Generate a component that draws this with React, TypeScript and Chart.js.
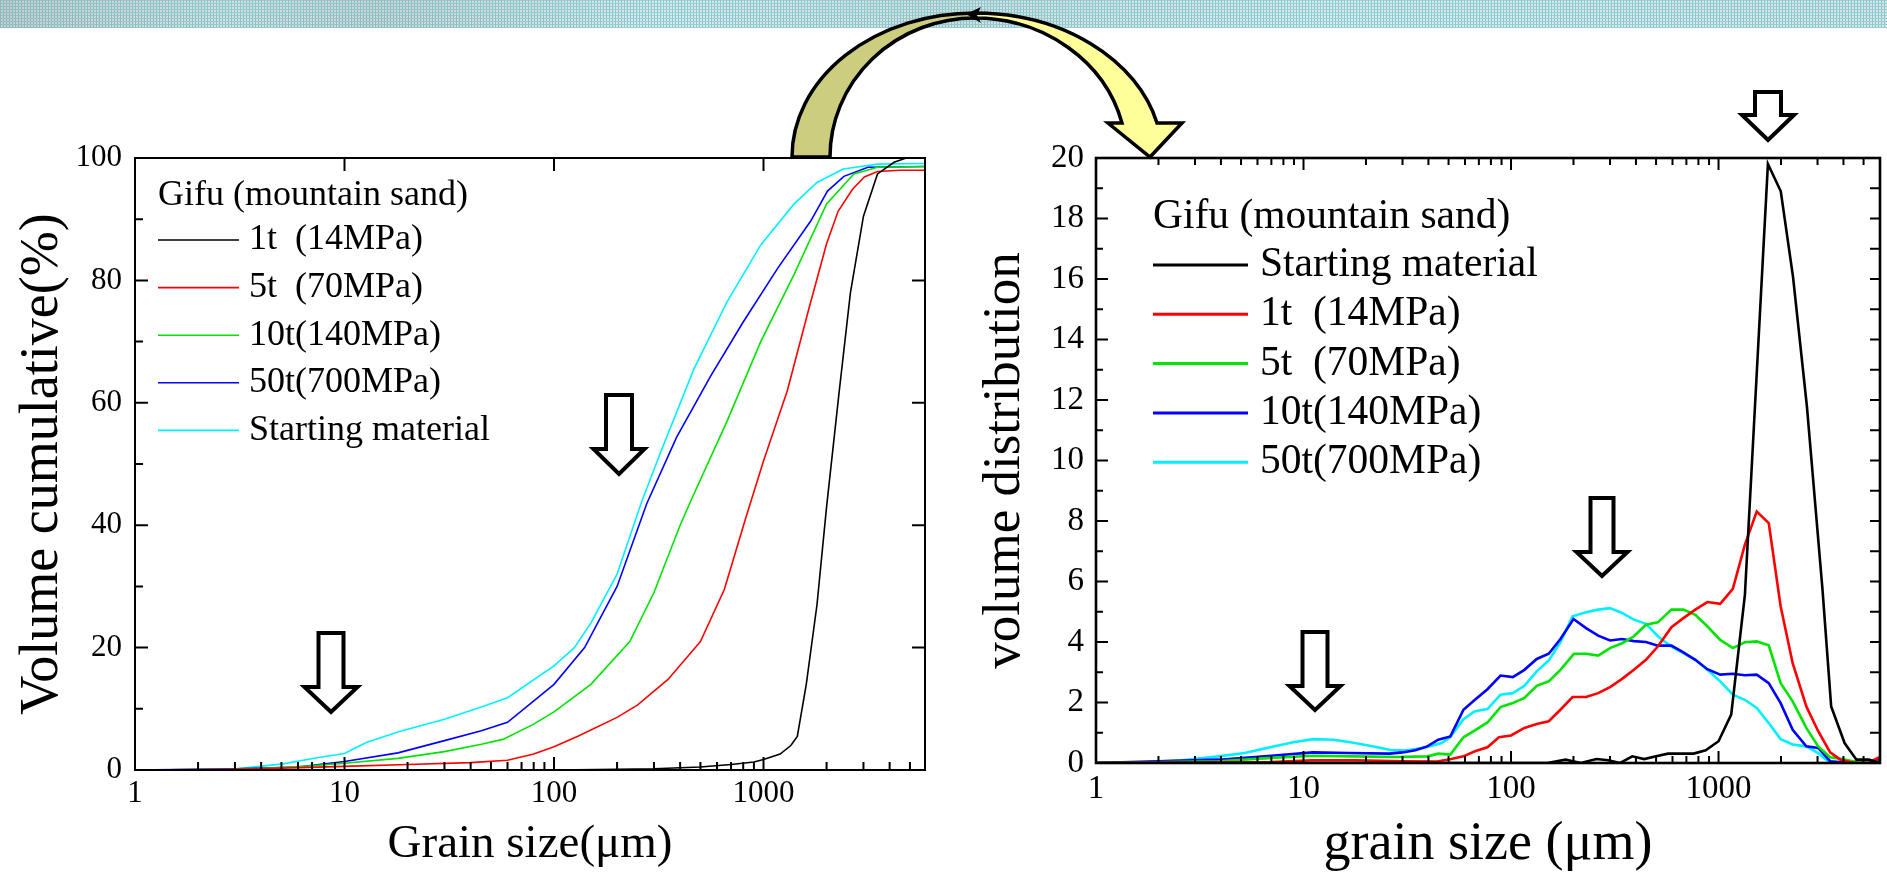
import { useEffect, useRef } from 'react';
import { Chart, registerables } from 'chart.js';
Chart.register(...registerables);

const FONT = '"Liberation Serif", "Times New Roman", Times, serif';

// ---------- Left chart: volume cumulative (%) ----------
const cumLabels = ['1t  (14MPa)', '5t  (70MPa)', '10t(140MPa)', '50t(700MPa)', 'Starting material'];
const cumColors = ['#000000', '#ff0000', '#00e400', '#0000ff', '#00f0ff'];
const cumTitle = 'Gifu (mountain sand)';

const cum1tX = [1, 10, 100, 200, 300, 500, 700, 900, 1000, 1200, 1350, 1450, 1600, 1800, 2000, 2300, 2600, 3000, 3500, 4200, 4800, 5900];
const cum1tY = [0, 0, 0, 0.1, 0.2, 0.5, 0.9, 1.3, 1.7, 2.6, 4.0, 5.5, 14, 27, 43, 62, 78, 90.5, 97.4, 99.3, 100, 100];

const cum5tX = [1, 3, 5, 10, 20, 40, 60, 80, 100, 130, 200, 250, 350, 500, 650, 820, 1000, 1300, 1650, 2000, 2270, 2660, 3030, 3500, 4500, 5900];
const cum5tY = [0, 0.1, 0.3, 0.6, 0.9, 1.2, 1.6, 2.6, 3.8, 5.5, 8.6, 10.6, 14.8, 21, 29.5, 41, 50.5, 62, 75.5, 86, 91.3, 94.9, 96.9, 97.8, 98, 98];

const cum10tX = [1, 3, 5, 7, 10, 18, 30, 45, 57, 80, 100, 150, 230, 300, 400, 450, 670, 970, 1400, 2000, 2700, 3500, 5900];
const cum10tY = [0, 0.1, 0.4, 0.7, 1.1, 1.9, 3.0, 4.2, 5.0, 7.5, 9.5, 14, 21, 29, 40, 44, 57, 70, 81, 92.5, 97.4, 98.5, 98.6];

const cum50tX = [1, 3, 6, 10, 18, 30, 45, 60, 100, 140, 200, 277, 385, 560, 800, 1170, 1680, 2020, 2420, 3150, 5900];
const cum50tY = [0, 0.2, 0.5, 1.4, 2.8, 4.8, 6.4, 7.8, 14, 20, 30, 43.5, 54.4, 64.4, 73.2, 82, 89.7, 94.6, 97, 98.5, 98.6];

const cumStartX = [1, 2.9, 5.1, 7.4, 10, 12.7, 18.3, 30, 45, 60, 100, 125, 150, 200, 260, 320, 465, 670, 970, 1400, 1800, 2400, 3500, 5900];
const cumStartY = [0, 0.1, 1.0, 2.0, 2.7, 4.5, 6.3, 8.3, 10.3, 11.8, 17, 20, 24, 32, 43.5, 51.6, 65.5, 76.5, 85.8, 92.5, 96, 98.2, 99, 99.1];

// ---------- Right chart: volume distribution ----------
const distLabels = ['Starting material', '1t  (14MPa)', '5t  (70MPa)', '10t(140MPa)', '50t(700MPa)'];
const distColors = ['#000000', '#ff0000', '#00e400', '#0000ff', '#00f0ff'];
const distTitle = 'Gifu (mountain sand)';

const distStartX = [1, 100, 150, 183, 217, 258, 294, 336, 384, 438, 500, 571, 652, 759, 867, 1000, 1151, 1340, 1730, 1995, 2285, 2667, 3170, 3490, 4050, 4620, 5300, 6000];
const distStartY = [0, 0, 0, 0.11, 0, 0.13, 0.09, 0, 0.22, 0.13, 0.22, 0.31, 0.31, 0.31, 0.42, 0.72, 1.6, 5.56, 19.8, 18.9, 16.08, 11.78, 5.73, 1.87, 0.66, 0.11, 0.11, 0];

const dist1tX = [1, 7, 11, 17.7, 30, 44, 51.5, 59, 67, 77, 87.5, 100, 116, 133, 152, 173, 198, 230, 263, 300, 343, 391, 447, 510, 593, 677, 773, 883, 1019, 1172, 1339, 1528, 1746, 1992, 2277, 2649, 3022, 3451, 3868, 4500, 5240, 6000];
const dist1tY = [0, 0.03, 0.09, 0.09, 0.06, 0.05, 0.13, 0.22, 0.39, 0.52, 0.85, 0.91, 1.16, 1.29, 1.38, 1.76, 2.18, 2.18, 2.31, 2.51, 2.78, 3.08, 3.41, 3.85, 4.49, 4.79, 5.07, 5.32, 5.26, 5.76, 7.21, 8.31, 7.93, 5.18, 3.3, 1.87, 1.05, 0.35, 0.11, 0, 0, 0.2];

const dist5tX = [1, 3.9, 7, 11.1, 17.7, 28, 39.5, 44.6, 51, 59, 67, 77, 89, 102, 116, 133, 152, 173, 201, 230, 263, 300, 343, 391, 447, 510, 593, 677, 773, 883, 1019, 1172, 1339, 1528, 1746, 1992, 2277, 2649, 3022, 3451, 3940, 4500, 5240, 6000];
const dist5tY = [0, 0.06, 0.17, 0.24, 0.22, 0.2, 0.22, 0.31, 0.28, 0.85, 1.08, 1.34, 1.85, 1.98, 2.15, 2.55, 2.7, 3.08, 3.61, 3.61, 3.55, 3.8, 3.96, 4.19, 4.57, 4.65, 5.07, 5.07, 4.9, 4.52, 4.07, 3.8, 3.99, 4.02, 3.89, 2.64, 2.04, 1.16, 0.55, 0.19, 0.13, 0.05, 0.09, 0.02];

const dist10tX = [1, 3.9, 7, 11.1, 16.5, 26, 30, 34.6, 39.5, 44.6, 51, 59, 67, 77, 89, 102, 116, 133, 152, 173, 200, 230, 263, 300, 343, 391, 447, 510, 593, 677, 773, 883, 1019, 1172, 1339, 1528, 1746, 1992, 2277, 2649, 3022, 3451, 3940, 4500, 5240, 6000];
const dist10tY = [0, 0.11, 0.24, 0.35, 0.33, 0.31, 0.35, 0.42, 0.55, 0.77, 0.88, 1.76, 2.09, 2.44, 2.89, 2.84, 3.08, 3.44, 3.61, 4.1, 4.76, 4.46, 4.21, 4.05, 4.1, 4.03, 4.0, 3.88, 3.88, 3.66, 3.41, 3.1, 2.92, 2.95, 2.9, 2.92, 2.64, 1.98, 1.1, 0.55, 0.5, 0.06, 0.02, 0, 0, 0.11];

const dist50tX = [1, 1.8, 2.6, 3.9, 5.2, 7, 8.8, 11.1, 14, 17.7, 22.4, 26.6, 31.7, 37.8, 46.3, 51, 59, 67, 77, 89, 102, 116, 133, 152, 173, 198, 230, 263, 300, 343, 391, 447, 510, 593, 677, 773, 883, 1019, 1172, 1339, 1528, 1746, 1992, 2277, 2649, 3022, 3451, 6000];
const dist50tY = [0, 0.03, 0.09, 0.22, 0.33, 0.53, 0.68, 0.79, 0.77, 0.66, 0.53, 0.42, 0.42, 0.5, 0.66, 0.86, 1.45, 1.71, 1.78, 2.26, 2.31, 2.55, 3.03, 3.39, 3.99, 4.85, 4.98, 5.07, 5.12, 4.96, 4.74, 4.6, 4.19, 3.85, 3.63, 3.41, 3.08, 2.7, 2.26, 2.09, 1.82, 1.32, 0.79, 0.61, 0.55, 0.33, 0, 0];

const decadeLabels = [1, 10, 100, 1000];

const pts = (xs: number[], ys: number[]) => xs.map((x, i) => ({ x, y: ys[i] }));

// Inward ticks + frame, drawn from the chart's own scales
const frameTicks = {
  id: 'frameTicks',
  afterDraw(chart: any, _args: any, o: any) {
    const { ctx, chartArea: a, scales } = chart;
    const xs = scales.x;
    const ys = scales.y;
    ctx.save();
    ctx.strokeStyle = '#000';
    ctx.lineWidth = o.tickWidth;
    ctx.beginPath();
    for (let d = 0; d < 4; d++) {
      for (let m = 1; m <= 9; m++) {
        const v = m * Math.pow(10, d);
        if (v < xs.min || v > xs.max) continue;
        const px = xs.getPixelForValue(v);
        const major = m === 1;
        const lb = major ? o.major : o.minor;
        ctx.moveTo(px, a.bottom);
        ctx.lineTo(px, a.bottom - lb);
        if (major || o.topMinor) {
          ctx.moveTo(px, a.top);
          ctx.lineTo(px, a.top + lb);
        }
      }
    }
    const n = Math.round((ys.max - ys.min) / o.yMinor);
    const every = Math.round(o.yMajor / o.yMinor);
    for (let i = 0; i <= n; i++) {
      const v = ys.min + i * o.yMinor;
      const py = ys.getPixelForValue(v);
      const major = i % every === 0;
      const len = major ? o.major : o.minor;
      ctx.moveTo(a.left, py);
      ctx.lineTo(a.left + len, py);
      if (major || o.rightMinor) {
        ctx.moveTo(a.right, py);
        ctx.lineTo(a.right - o.rightLen, py);
      }
    }
    ctx.stroke();
    ctx.lineWidth = o.frameWidth;
    ctx.strokeRect(a.left, a.top, a.right - a.left, a.bottom - a.top);
    ctx.restore();
  },
};

// Legend drawn inside the plot area from the datasets' labels and colours
const insideLegend = {
  id: 'insideLegend',
  afterDraw(chart: any, _args: any, o: any) {
    if (!o || !o.title) return;
    const ctx = chart.ctx;
    ctx.save();
    ctx.font = `${o.size}px ${FONT}`;
    ctx.textBaseline = 'middle';
    ctx.textAlign = 'left';
    ctx.fillStyle = '#000';
    ctx.fillText(o.title, o.x, o.titleY);
    chart.data.datasets.forEach((ds: any, i: number) => {
      const y = o.rowY + i * o.gap;
      ctx.strokeStyle = ds.borderColor;
      ctx.lineWidth = o.lineWidth;
      ctx.beginPath();
      ctx.moveTo(o.x, y);
      ctx.lineTo(o.x + o.len, y);
      ctx.stroke();
      ctx.fillStyle = '#000';
      ctx.fillText(ds.label, o.textX, y);
    });
    ctx.restore();
  },
};

const logTick = (value: any) => (decadeLabels.includes(Number(value)) ? String(Number(value)) : '');

function leftConfig(): any {
  const series = [
    pts(cum1tX, cum1tY),
    pts(cum5tX, cum5tY),
    pts(cum10tX, cum10tY),
    pts(cum50tX, cum50tY),
    pts(cumStartX, cumStartY),
  ];
  return {
    type: 'line',
    data: {
      datasets: series.map((d, i) => ({
        label: cumLabels[i],
        data: d,
        borderColor: cumColors[i],
        backgroundColor: cumColors[i],
        borderWidth: 1.6,
        pointRadius: 0,
        tension: 0,
        fill: false,
      })),
    },
    options: {
      animation: false,
      responsive: true,
      maintainAspectRatio: false,
      events: [],
      layout: { padding: { top: 158, right: 35, left: 0, bottom: 0 } },
      scales: {
        x: {
          type: 'logarithmic',
          min: 1,
          max: 5900,
          grid: { display: false, drawTicks: false },
          border: { display: false },
          ticks: { autoSkip: false, maxRotation: 0, padding: 5, color: '#000', font: { family: FONT, size: 31 }, callback: logTick },
          title: { display: true, text: 'Grain size(\u03bcm)', color: '#000', font: { family: FONT, size: 47 }, padding: { top: 0, bottom: 2 } },
          afterFit: (s: any) => { s.height = 105; },
        },
        y: {
          type: 'linear',
          min: 0,
          max: 100,
          grid: { display: false, drawTicks: false },
          border: { display: false },
          ticks: { stepSize: 20, padding: 13, color: '#000', font: { family: FONT, size: 31 } },
          title: { display: true, text: 'Volume cumulative(%)', color: '#000', font: { family: FONT, size: 54 }, padding: { top: 10, bottom: 0 } },
          afterFit: (s: any) => { s.width = 135; },
        },
      },
      plugins: {
        legend: { display: false },
        tooltip: { enabled: false },
        frameTicks: { tickWidth: 2, frameWidth: 2, major: 13, minor: 8, topMinor: false, rightMinor: false, rightLen: 13, yMinor: 10, yMajor: 20 },
        insideLegend: { title: cumTitle, size: 36, x: 158, titleY: 196, rowY: 240, gap: 47.6, len: 81, textX: 249, lineWidth: 1.6 },
      },
    },
    plugins: [frameTicks, insideLegend],
  };
}

function rightConfig(): any {
  const series = [
    pts(distStartX, distStartY),
    pts(dist1tX, dist1tY),
    pts(dist5tX, dist5tY),
    pts(dist10tX, dist10tY),
    pts(dist50tX, dist50tY),
  ];
  return {
    type: 'line',
    data: {
      datasets: series.map((d, i) => ({
        label: distLabels[i],
        data: d,
        borderColor: distColors[i],
        backgroundColor: distColors[i],
        borderWidth: 2.6,
        pointRadius: 0,
        tension: 0,
        fill: false,
      })),
    },
    options: {
      animation: false,
      responsive: true,
      maintainAspectRatio: false,
      events: [],
      layout: { padding: { top: 158, right: 4, left: 0, bottom: 0 } },
      scales: {
        x: {
          type: 'logarithmic',
          min: 1,
          max: 6000,
          grid: { display: false, drawTicks: false },
          border: { display: false },
          ticks: { autoSkip: false, maxRotation: 0, padding: 7, color: '#000', font: { family: FONT, size: 33 }, callback: logTick },
          title: { display: true, text: 'grain size (\u03bcm)', color: '#000', font: { family: FONT, size: 54, lineHeight: 1.1 }, padding: { top: 0, bottom: 0 } },
          afterFit: (s: any) => { s.height = 112; },
        },
        y: {
          type: 'linear',
          min: 0,
          max: 20,
          grid: { display: false, drawTicks: false },
          border: { display: false },
          ticks: { stepSize: 2, padding: 12, color: '#000', font: { family: FONT, size: 33 } },
          title: { display: true, text: 'volume distribution', color: '#000', font: { family: FONT, size: 53 }, padding: { top: 13, bottom: 0 } },
          afterFit: (s: any) => { s.width = 136; },
        },
      },
      plugins: {
        legend: { display: false },
        tooltip: { enabled: false },
        frameTicks: { tickWidth: 2, frameWidth: 2.6, major: 12, minor: 7, topMinor: true, rightMinor: true, rightLen: 10, yMinor: 1, yMajor: 2 },
        insideLegend: { title: distTitle, size: 41.5, x: 193, titleY: 217, rowY: 265, gap: 49.3, len: 95, textX: 300, lineWidth: 3 },
      },
    },
    plugins: [frameTicks, insideLegend],
  };
}

function downArrow(cx: number, top: number, sw: number, hw: number, hb: number, tip: number) {
  return `M ${cx - sw / 2} ${top} L ${cx + sw / 2} ${top} L ${cx + sw / 2} ${hb} L ${cx + hw / 2} ${hb} L ${cx} ${tip} L ${cx - hw / 2} ${hb} L ${cx - sw / 2} ${hb} Z`;
}

export default function App() {
  const leftRef = useRef<HTMLCanvasElement>(null);
  const rightRef = useRef<HTMLCanvasElement>(null);

  useEffect(() => {
    const c1 = new Chart(leftRef.current as HTMLCanvasElement, leftConfig());
    const c2 = new Chart(rightRef.current as HTMLCanvasElement, rightConfig());
    return () => {
      c1.destroy();
      c2.destroy();
    };
  }, []);

  const arrowStyle = { fill: '#ffffff', stroke: '#000000', strokeWidth: 4, strokeLinejoin: 'miter' as const };

  return (
    <div style={{ position: 'fixed', left: 0, top: 0, width: 1887, height: 875, background: '#ffffff', overflow: 'hidden' }}>
      <div style={{ position: 'absolute', left: 0, top: 0, width: 960, height: 875 }}>
        <canvas ref={leftRef} />
      </div>
      <div style={{ position: 'absolute', left: 960, top: 0, width: 927, height: 875 }}>
        <canvas ref={rightRef} />
      </div>
      <svg width={1887} height={875} style={{ position: 'absolute', left: 0, top: 0, pointerEvents: 'none' }}>
        <defs>
          <pattern id="bandDots" width="3" height="3" patternUnits="userSpaceOnUse">
            <rect width="3" height="3" fill="#dcf0f1" />
            <rect width="1" height="3" fill="#86ccd2" />
            <rect width="3" height="1" fill="#9bd6db" />
          </pattern>
          <linearGradient id="bandShade" x1="0" y1="0" x2="1" y2="0">
            <stop offset="0" stopColor="#8a8a8a" stopOpacity="0.32" />
            <stop offset="0.12" stopColor="#8a8a8a" stopOpacity="0.14" />
            <stop offset="0.2" stopColor="#8a8a8a" stopOpacity="0.25" />
            <stop offset="0.35" stopColor="#8a8a8a" stopOpacity="0.06" />
            <stop offset="0.5" stopColor="#8a8a8a" stopOpacity="0.16" />
            <stop offset="0.7" stopColor="#8a8a8a" stopOpacity="0.05" />
            <stop offset="1" stopColor="#8a8a8a" stopOpacity="0.1" />
          </linearGradient>
        </defs>
        <rect x={0} y={0} width={1887} height={28} fill="url(#bandDots)" />
        <rect x={0} y={0} width={1887} height={28} fill="url(#bandShade)" />

        {/* curved arrow from left chart to right chart */}
        <path d="M 792 157 A 183 144 0 0 1 975 13 L 975 18 A 145 139 0 0 0 830 157 Z" fill="#cdcd80" stroke="#000" strokeWidth={3.5} strokeLinejoin="round" />
        <path d="M 975 13 A 187 144 0 0 1 1157 123 L 1182 123 L 1150 157 L 1108 123 L 1122 123 A 152 139 0 0 0 975 18 Z" fill="#ffff99" stroke="#000" strokeWidth={3.5} strokeLinejoin="miter" />
        <path d="M 966 14 L 981 7 L 977 15 L 981 23 Z" fill="#000" />

        {/* hollow down arrows */}
        <path d={downArrow(331, 633, 25, 53, 687, 712)} {...arrowStyle} />
        <path d={downArrow(619, 395, 26, 51, 449, 474)} {...arrowStyle} />
        <path d={downArrow(1768, 92, 26, 52, 115, 140)} {...arrowStyle} />
        <path d={downArrow(1602, 498, 23, 51, 552, 576)} {...arrowStyle} />
        <path d={downArrow(1315, 632, 25, 51, 686, 710)} {...arrowStyle} />
      </svg>
    </div>
  );
}
